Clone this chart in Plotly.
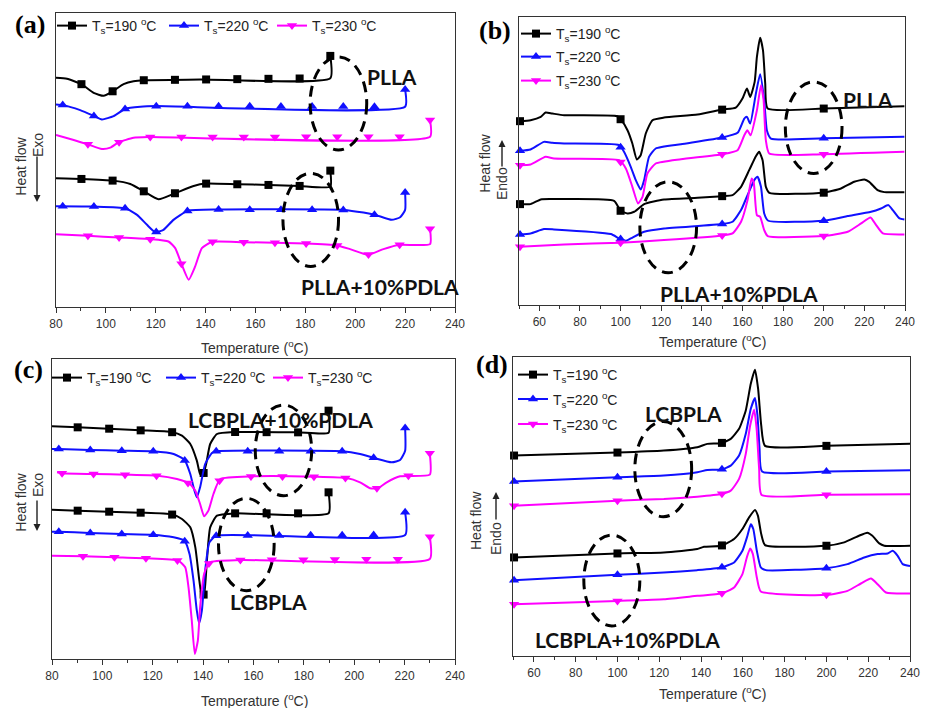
import numpy as np
import plotly.graph_objects as go

# ---------------- data: DSC traces (temperature in °C, heat flow in a.u.) ----------------
# (a) cooling, PLLA and PLLA+10%PDLA
A_PLLA_190_T = [80, 84.4, 90.2, 95.1, 99.1, 102.8, 107.1, 111.1, 115.4, 137.8, 190, 190]
A_PLLA_190_H = [689, 686, 670, 644, 635, 649, 670, 679, 682, 684, 688, 755]
A_PLLA_220_T = [80, 82.7, 89.7, 95.4, 98.4, 103.1, 107.8, 113.8, 120.3, 220, 220]
A_PLLA_220_H = [609, 607, 592, 574, 564, 574, 596, 602, 604, 602, 654]
A_PLLA_230_T = [80, 87.1, 92.8, 98.4, 101.8, 105.1, 111.1, 117.7, 230, 230]
A_PLLA_230_H = [517, 502, 489, 475, 479, 495, 509, 511, 512, 562]
A_BLEND_190_T = [80, 90.2, 102.8, 109.8, 115.4, 121.1, 127.7, 135.2, 140.2, 152.8, 165.3, 177.8, 190, 190]
A_BLEND_190_H = [387, 385, 380, 370, 347, 324, 342, 364, 371, 369, 367, 364, 362, 410]
A_BLEND_220_T = [80, 95.4, 107.8, 112.5, 116.5, 119.8, 123.1, 127.1, 132.8, 145.3, 195.3, 203.3, 208, 214.6, 218, 220, 220]
A_BLEND_220_H = [303, 302, 297, 277, 247, 225, 232, 262, 289, 293, 292, 284, 277, 262, 270, 292, 344]
A_BLEND_230_T = [80, 92.8, 105.1, 117.7, 125.1, 127.8, 130.2, 133.2, 135.8, 138.5, 142.6, 155.2, 180.2, 192.7,
                 197.9, 205.1, 211.3, 217.7, 230, 230]
A_BLEND_230_H = [219, 214, 209, 204, 197, 177, 132, 82, 122, 177, 196, 195, 191, 185, 174, 157, 174, 187, 189, 235]

# (b) heating, PLLA and PLLA+10%PDLA
B_PLLA_190_T = [50.3, 55.7, 60.7, 63.1, 66.4, 72.2, 98.4, 100, 103.4, 105.8, 108, 109.9, 112.4, 115.7, 121.4,
                137.9, 150.2, 156.7, 160, 162.2, 163.8, 166, 167.1, 168.7, 170.1, 171.2, 172.4, 199.8, 239.7]
B_PLLA_190_H = [552, 555, 565, 578, 575, 570, 567, 558, 525, 485, 437, 450, 515, 555, 563,
                572, 587, 593, 620, 650, 625, 670, 745, 803, 765, 665, 590, 590, 597]
B_PLLA_220_T = [50.3, 55.7, 62.3, 66.4, 72.2, 99.3, 101.7, 105, 107.5, 109.9, 111.6, 114, 117.3, 129.7, 150.2,
                157.6, 160.9, 162.2, 163.8, 166.6, 168.7, 170.7, 172, 174, 199.8, 239.7]
B_PLLA_220_H = [463, 467, 490, 487, 485, 480, 460, 415, 375, 347, 375, 445, 470, 483, 503,
                517, 560, 565, 545, 635, 693, 615, 525, 500, 501, 505]
B_PLLA_230_T = [50.3, 55.7, 63.1, 67.2, 99.3, 102.6, 105.8, 108.6, 110.8, 113.2, 117.3, 129.7, 150.2, 157.6,
                160.9, 162.4, 164, 167.1, 169.1, 170.4, 171.5, 173.2, 199.8, 239.7]
B_PLLA_230_H = [420, 422, 445, 440, 435, 410, 355, 305, 325, 395, 425, 438, 453, 465,
                510, 525, 510, 585, 660, 615, 495, 455, 453, 460]
B_BLEND_190_T = [50.3, 55.7, 60.7, 65.6, 96.8, 100, 103.4, 106.7, 111.6, 121.4, 137.9, 150.2, 155.1, 159.3,
                 163.3, 166.6, 168.2, 169.9, 171.5, 173.2, 199.8, 208.5, 215, 220, 222.4, 226.5, 229.8, 239.7]
B_BLEND_190_H = [303, 303, 317, 318, 313, 283, 275, 280, 303, 317, 322, 327, 330, 355,
                 405, 447, 460, 435, 355, 337, 337, 350, 370, 377, 370, 345, 339, 339]
B_BLEND_220_T = [50.3, 55.7, 62.3, 67.2, 95.2, 99.3, 102.6, 105, 111.6, 121.4, 150.2, 155.1, 159.3, 162.5,
                 165.8, 167.4, 169.1, 170.7, 172.7, 199.8, 211.8, 223.3, 228.2, 231.8, 234, 237.3, 239.7]
B_BLEND_220_H = [212, 215, 228, 227, 213, 200, 193, 200, 220, 230, 243, 250, 285, 330,
                 375, 385, 355, 275, 253, 253, 267, 280, 290, 300, 285, 260, 257]
B_BLEND_230_T = [50.3, 72.2, 100, 121.4, 150.2, 155.1, 159.3, 162.5, 164.5, 165.5, 167.1, 168.7, 170.7, 172.4,
                 199.8, 211.8, 218.4, 223, 225.8, 229.1, 239.7]
B_BLEND_230_H = [175, 182, 187, 195, 209, 215, 250, 315, 380, 370, 270, 265, 225, 207,
                 207, 220, 245, 263, 240, 215, 212]

# (c) cooling, LCBPLA+10%PDLA and LCBPLA
C_BLEND_190_T = [80, 90.2, 102.5, 115, 127.5, 131.6, 134.9, 137.5, 138.8, 139.9, 141.2, 142.8, 145.5, 152.7,
                 177.6, 189.8, 189.8]
C_BLEND_190_H = [698, 695, 691, 686, 681, 670, 645, 595, 555, 550, 585, 645, 675, 681, 680, 679, 745]
C_BLEND_220_T = [80, 82.6, 94.9, 107.8, 120.1, 128.3, 132.6, 134.9, 136.2, 137.5, 138.8, 140.8, 143.5, 145.2,
                 195.3, 202.3, 207.9, 214.9, 218.2, 220.2, 220.2]
C_BLEND_220_H = [630, 630, 627, 625, 623, 615, 597, 555, 515, 485, 515, 585, 618, 623,
                 623, 615, 603, 590, 597, 625, 693]
C_BLEND_230_T = [82, 84, 96.8, 109.5, 121.9, 129.6, 134.5, 136.9, 138.8, 140.4, 142.1, 144.1, 146.8, 159.6,
                 184.5, 197, 202.3, 206.3, 209.3, 212.9, 218.2, 230, 230]
C_BLEND_230_H = [560, 557, 555, 553, 550, 540, 527, 505, 465, 428, 445, 495, 540, 548,
                 547, 543, 530, 512, 512, 530, 548, 553, 617]
C_NEAT_190_T = [80, 90.2, 102.5, 115, 127.5, 131.6, 134.9, 136.9, 138.5, 139.5, 140.4, 141.5, 142.8, 145.5,
                152.7, 189.8, 189.8]
C_NEAT_190_H = [448, 445, 442, 439, 434, 420, 395, 335, 235, 187, 195, 295, 395, 430, 437, 437, 500]
C_NEAT_220_T = [80, 82.6, 94.9, 107.8, 120.1, 128.3, 132.6, 134.6, 136.2, 137.5, 138.4, 139.5, 140.8, 142.5,
                145.2, 220.2, 220.2]
C_NEAT_220_H = [382, 382, 378, 375, 373, 365, 355, 315, 235, 145, 107, 145, 265, 350, 370, 372, 440]
C_NEAT_230_T = [80, 92.3, 105.1, 117.7, 130.2, 132.9, 134.2, 135.5, 136.7, 137.9, 138.8, 140.4, 142.5, 155,
                230, 230]
C_NEAT_230_H = [310, 308, 305, 302, 295, 275, 215, 115, 15, 55, 155, 255, 290, 297, 300, 367]

# (d) heating, LCBPLA and LCBPLA+10%PDLA
D_NEAT_190_T = [50.3, 100, 122.2, 138.2, 143, 149.7, 154.2, 158.2, 161.4, 163.8, 165.8, 167.3, 168.8, 170.6,
                200, 240]
D_NEAT_190_H = [600, 609, 615, 625, 635, 637, 650, 680, 735, 815, 857, 800, 690, 629, 629, 635]
D_NEAT_220_T = [50.3, 100, 122.2, 138.2, 143, 149.7, 154.2, 158.2, 161.4, 163.8, 165.8, 167, 168, 169.2,
                200, 240]
D_NEAT_220_H = [522, 535, 540, 550, 557, 558, 570, 600, 665, 740, 772, 720, 620, 552, 552, 556]
D_NEAT_230_T = [50.3, 100, 122.2, 138.2, 149.7, 154.2, 158.2, 161.4, 163.5, 165.4, 166.6, 167.8, 169,
                200, 240]
D_NEAT_230_H = [450, 465, 470, 477, 485, 495, 530, 605, 690, 737, 680, 560, 482, 483, 484]
D_BLEND_190_T = [50.3, 100, 122.2, 138.2, 141.4, 149.7, 155.8, 159.8, 163, 165.8, 167.2, 168.8, 170.6, 200,
                 208.5, 215.6, 219.6, 222, 225.3, 227.7, 240]
D_BLEND_190_H = [295, 307, 310, 320, 327, 330, 350, 380, 415, 437, 420, 365, 332, 330,
                 340, 360, 369, 360, 337, 330, 330]
D_BLEND_220_T = [50.3, 100, 122.2, 138.2, 149.7, 155.8, 159.8, 162.2, 163.8, 165, 166.7, 168.6, 171, 200,
                 210.1, 218.1, 224.5, 229.3, 231.7, 234.1, 236.5, 240]
D_BLEND_220_H = [227, 243, 250, 257, 265, 280, 315, 360, 394, 380, 315, 265, 257, 263,
                 275, 295, 305, 307, 315, 300, 275, 269]
D_BLEND_230_T = [50.3, 100, 122.2, 138.2, 149.7, 155.8, 159.8, 161.9, 163.5, 164.8, 166.7, 168.6, 200,
                 210.1, 216.5, 221.3, 224.5, 228.5, 240]
D_BLEND_230_H = [155, 165, 170, 180, 187, 205, 245, 295, 322, 305, 235, 193, 183,
                 195, 217, 232, 215, 190, 187]

# symbol positions along the traces (°C)
MK_190_COOL = [90.2, 102.7, 115.2, 127.7, 140.2, 152.7, 165.2, 177.7]
MK_220_COOL = [82.7, 95.2, 107.7, 120.2, 132.7, 145.2, 157.7, 170.2, 182.7, 195.2, 207.7]
MK_230_COOL_A = [92.8, 105.3, 117.8, 130.3, 142.8, 155.3, 167.8, 180.3, 192.8, 205.3, 217.8]
MK_230_COOL_C1 = [84.0, 96.5, 109.0, 121.5, 134.0, 146.5, 159.0, 171.5, 184.0, 196.5, 209.0, 221.5]
MK_230_COOL_C2 = [92.3, 104.8, 117.3, 129.8, 142.3, 154.8, 167.3, 179.8, 192.3, 204.8, 217.3]
MK_HEAT = [50.5, 100, 150, 200]

SERIES_NAMES = ["T<sub>s</sub>=190 <sup>o</sup>C", "T<sub>s</sub>=220 <sup>o</sup>C", "T<sub>s</sub>=230 <sup>o</sup>C"]
COLORS = ["#000000", "#1010ff", "#ff00ff"]
SYMBOLS = ["square", "triangle-up", "triangle-down"]
SIZES = [8, 9, 9]

W, H = 928, 708
FONT = "Liberation Sans, Arial, sans-serif"

fig = go.Figure()


def px(x, y):
    return x / W, 1 - y / H


def add_curve(T, Hf, mk, idx, ax, riser):
    xa, ya = ("x" + ax), ("y" + ax)
    fig.add_trace(go.Scatter(x=T, y=Hf, mode="lines", xaxis=xa, yaxis=ya, showlegend=False,
                             hoverinfo="skip",
                             line=dict(color=COLORS[idx], width=2, shape="spline", smoothing=0.5)))
    if riser:
        mx = list(mk) + [T[-1]]
        my = list(np.interp(mk, T[:-1], Hf[:-1])) + [Hf[-1]]
    else:
        mx = list(mk)
        my = list(np.interp(mk, T, Hf))
    fig.add_trace(go.Scatter(x=mx, y=my, mode="markers", xaxis=xa, yaxis=ya, showlegend=False,
                             hoverinfo="skip", cliponaxis=False,
                             marker=dict(symbol=SYMBOLS[idx], size=SIZES[idx], color=COLORS[idx],
                                         line=dict(width=0))))


# (a)
add_curve(A_PLLA_190_T, A_PLLA_190_H, MK_190_COOL, 0, "", True)
add_curve(A_PLLA_220_T, A_PLLA_220_H, MK_220_COOL, 1, "", True)
add_curve(A_PLLA_230_T, A_PLLA_230_H, MK_230_COOL_A, 2, "", True)
add_curve(A_BLEND_190_T, A_BLEND_190_H, MK_190_COOL, 0, "", True)
add_curve(A_BLEND_220_T, A_BLEND_220_H, MK_220_COOL, 1, "", True)
add_curve(A_BLEND_230_T, A_BLEND_230_H, MK_230_COOL_A, 2, "", True)
# (b)
add_curve(B_PLLA_190_T, B_PLLA_190_H, MK_HEAT, 0, "2", False)
add_curve(B_PLLA_220_T, B_PLLA_220_H, MK_HEAT, 1, "2", False)
add_curve(B_PLLA_230_T, B_PLLA_230_H, MK_HEAT, 2, "2", False)
add_curve(B_BLEND_190_T, B_BLEND_190_H, MK_HEAT, 0, "2", False)
add_curve(B_BLEND_220_T, B_BLEND_220_H, MK_HEAT, 1, "2", False)
add_curve(B_BLEND_230_T, B_BLEND_230_H, MK_HEAT, 2, "2", False)
# (c)
add_curve(C_BLEND_190_T, C_BLEND_190_H, MK_190_COOL, 0, "3", True)
add_curve(C_BLEND_220_T, C_BLEND_220_H, MK_220_COOL, 1, "3", True)
add_curve(C_BLEND_230_T, C_BLEND_230_H, MK_230_COOL_C1, 2, "3", True)
add_curve(C_NEAT_190_T, C_NEAT_190_H, MK_190_COOL, 0, "3", True)
add_curve(C_NEAT_220_T, C_NEAT_220_H, MK_220_COOL, 1, "3", True)
add_curve(C_NEAT_230_T, C_NEAT_230_H, MK_230_COOL_C2, 2, "3", True)
# (d)
add_curve(D_NEAT_190_T, D_NEAT_190_H, MK_HEAT, 0, "4", False)
add_curve(D_NEAT_220_T, D_NEAT_220_H, MK_HEAT, 1, "4", False)
add_curve(D_NEAT_230_T, D_NEAT_230_H, MK_HEAT, 2, "4", False)
add_curve(D_BLEND_190_T, D_BLEND_190_H, MK_HEAT, 0, "4", False)
add_curve(D_BLEND_220_T, D_BLEND_220_H, MK_HEAT, 1, "4", False)
add_curve(D_BLEND_230_T, D_BLEND_230_H, MK_HEAT, 2, "4", False)

# one small legend per entry so each key sits exactly where it belongs:
# (axis suffix, series index, legend left px, legend top px)
LEGEND_SLOTS = [
    ("", 0, 52, 10), ("", 1, 164, 10), ("", 2, 272, 10),
    ("2", 0, 516, 18), ("2", 1, 516, 41), ("2", 2, 516, 65),
    ("3", 0, 47, 362), ("3", 1, 161, 362), ("3", 2, 268, 362),
    ("4", 0, 513, 359), ("4", 1, 513, 383.5), ("4", 2, 513, 408.5),
]
legend_layout = {}
for k, (ax, i, lx, ly) in enumerate(LEGEND_SLOTS):
    key = "legend" if k == 0 else "legend%d" % (k + 1)
    fig.add_trace(go.Scatter(x=[None], y=[None], mode="lines+markers", name=SERIES_NAMES[i],
                             xaxis="x" + ax, yaxis="y" + ax, legend=key,
                             line=dict(color=COLORS[i], width=2),
                             marker=dict(symbol=SYMBOLS[i], size=SIZES[i], color=COLORS[i])))
    fx, fy = px(lx, ly)
    legend_layout[key] = dict(x=fx, y=fy, xanchor="left", yanchor="top", bgcolor="rgba(0,0,0,0)",
                              font=dict(family=FONT, size=14, color="#222"), itemclick=False,
                              itemdoubleclick=False)

# panel geometry in pixels: (left, right, top, bottom), x range, y range
PANELS = {
    "": ((56, 455, 13, 307), [80, 240], [0, 884]),
    "2": ((519, 905, 17, 305), [50, 240], [0, 865]),
    "3": ((52, 455, 359, 659), [80, 240], [0, 900]),
    "4": ((513, 910, 357, 656), [50, 240], [0, 895]),
}

layout_axes = {}
for ax, ((l, r, t, b), xr, yr) in PANELS.items():
    layout_axes["xaxis" + ax] = dict(
        domain=[l / W, r / W], range=xr, anchor="y" + ax, showline=True, linecolor="#333", linewidth=1.3,
        mirror=True, ticks="outside", ticklen=5, tickwidth=1.2, tickcolor="#333", dtick=20, tick0=0,
        minor=dict(ticks="outside", ticklen=3, dtick=10, tick0=0, tickcolor="#333", tickwidth=1),
        showgrid=False, zeroline=False, tickfont=dict(family=FONT, size=12, color="#333"))
    layout_axes["yaxis" + ax] = dict(
        domain=[1 - b / H, 1 - t / H], range=yr, anchor="x" + ax, showline=True, linecolor="#333",
        linewidth=1.3, mirror=True, ticks="", showticklabels=False, showgrid=False, zeroline=False)

fig.update_layout(
    width=W, height=H, margin=dict(l=0, r=0, t=0, b=0, pad=0, autoexpand=False),
    paper_bgcolor="white", plot_bgcolor="white",
    **legend_layout,
    **layout_axes,
)

# dashed ellipses highlighting the melting regions
ELLIPSES = [
    ("", 181.9, 204.6, 472, 752), ("", 171.0, 193.3, 122, 402),
    ("2", 181.1, 209.0, 395, 670), ("2", 109.5, 137.4, 97, 370),
    ("3", 160.7, 183.1, 490, 762), ("3", 146.1, 168.2, 205, 482),
    ("4", 108.3, 135.5, 417, 702), ("4", 83.9, 110.7, 90, 362),
]
for ax, x0, x1, y0, y1 in ELLIPSES:
    fig.add_shape(type="circle", xref="x" + ax, yref="y" + ax, x0=x0, x1=x1, y0=y0, y1=y1,
                  line=dict(color="black", width=3, dash="11px,7px"))

LABEL_FONT = dict(family="Lato, Liberation Sans, sans-serif", size=21, color="#111")
SAMPLE_LABELS = [
    ("", 214.6, 692, "PLLA"), ("", 210.0, 62, "PLLA+10%PDLA"),
    ("2", 221.6, 618, "PLLA"), ("2", 158.4, 35, "PLLA+10%PDLA"),
    ("3", 170.6, 720, "LCBPLA+10%PDLA"), ("3", 166.0, 173, "LCBPLA"),
    ("4", 131.8, 727, "LCBPLA"), ("4", 104.7, 50, "LCBPLA+10%PDLA"),
]
for ax, x, y, txt in SAMPLE_LABELS:
    fig.add_annotation(x=x, y=y, xref="x" + ax, yref="y" + ax, text="<b>" + txt + "</b>",
                       showarrow=False, font=LABEL_FONT, xanchor="center", yanchor="middle")


def paper_text(x, y, text, font, angle=0):
    fx, fy = px(x, y)
    fig.add_annotation(x=fx, y=fy, xref="paper", yref="paper", text=text, textangle=angle,
                       showarrow=False, font=font, xanchor="center", yanchor="middle")


# panel letters
for (x, y), letter in zip([(30, 24), (495, 30), (28, 369), (492, 364)], "abcd"):
    paper_text(x, y, "<b>(" + letter + ")</b>",
               dict(family="Liberation Serif, Times New Roman, serif", size=26, color="black"))

# x-axis titles
for (x, y) in [(255, 347), (712, 341), (255, 700), (712, 693)]:
    paper_text(x, y, "Temperature (<sup>o</sup>C)", dict(family=FONT, size=14, color="#333"))

# y-axis titles with direction arrows
YT = [
    ((20.7, 166), (38, 145), "Exo", (37, 202), (37, 155)),
    ((484.7, 163), (502, 184), "Endo", (502, 140), (502, 168)),
    ((20.7, 502), (38, 485), "Exo", (37, 531), (37, 499)),
    ((476, 521), (496, 538), "Endo", (496, 492), (496, 521)),
]
for hf, dpos, dtxt, head, tail in YT:
    paper_text(hf[0], hf[1], "Heat flow", dict(family=FONT, size=14, color="#333"), angle=-90)
    paper_text(dpos[0], dpos[1], dtxt, dict(family=FONT, size=14, color="#333"), angle=-90)
    fx, fy = px(*head)
    fig.add_annotation(x=fx, y=fy, xref="paper", yref="paper", text="", showarrow=True,
                       ax=tail[0] - head[0], ay=tail[1] - head[1], arrowhead=2, arrowsize=1,
                       arrowwidth=1.4, arrowcolor="#222")

fig.write_html("out.html")
